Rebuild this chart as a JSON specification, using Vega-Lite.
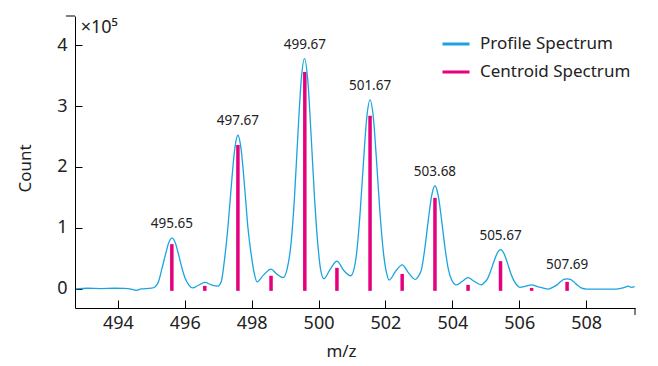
{
  "$schema": "https://vega.github.io/schema/vega-lite/v6.json",
  "width": 560,
  "height": 292,
  "autosize": {"type": "none"},
  "padding": {"left": 75, "top": 16, "right": 23, "bottom": 58},
  "background": "white",
  "config": {
    "view": {"stroke": null},
    "font": "Noto Sans",
    "axis": {"grid": false, "domainColor": "#000", "tickColor": "#000", "domainWidth": 1, "tickWidth": 1, "labelColor": "#222", "titleColor": "#222", "labelFont": "Noto Sans", "titleFont": "Noto Sans", "labelFontSize": 18, "titleFontSize": 17, "titleFontWeight": "normal"}
  },
  "datasets": {
    "profile": [
      {"mz": 492.75, "count": -500}, {"mz": 493.1, "count": 500}, {"mz": 493.5, "count": 0}, {"mz": 493.9, "count": 500},
      {"mz": 494.2, "count": 300}, {"mz": 494.4, "count": -1000}, {"mz": 494.55, "count": -3000}, {"mz": 494.7, "count": -500},
      {"mz": 495.0, "count": 500}, {"mz": 495.12, "count": 3000}, {"mz": 495.22, "count": 12000}, {"mz": 495.32, "count": 33000},
      {"mz": 495.42, "count": 55000}, {"mz": 495.52, "count": 75000}, {"mz": 495.62, "count": 83000}, {"mz": 495.72, "count": 75000},
      {"mz": 495.82, "count": 55000}, {"mz": 495.92, "count": 33000}, {"mz": 496.02, "count": 16000}, {"mz": 496.12, "count": 6000},
      {"mz": 496.24, "count": 1000}, {"mz": 496.4, "count": 5000}, {"mz": 496.6, "count": 10000}, {"mz": 496.8, "count": 6000},
      {"mz": 496.99, "count": 4000}, {"mz": 497.09, "count": 11000}, {"mz": 497.19, "count": 48000}, {"mz": 497.29, "count": 100000},
      {"mz": 497.39, "count": 167000}, {"mz": 497.49, "count": 227000}, {"mz": 497.59, "count": 252000}, {"mz": 497.69, "count": 227000},
      {"mz": 497.79, "count": 167000}, {"mz": 497.89, "count": 100000}, {"mz": 497.99, "count": 55000}, {"mz": 498.09, "count": 22000},
      {"mz": 498.16, "count": 11000}, {"mz": 498.35, "count": 22000}, {"mz": 498.58, "count": 32000}, {"mz": 498.75, "count": 24000},
      {"mz": 498.94, "count": 18000}, {"mz": 499.06, "count": 32000}, {"mz": 499.18, "count": 75000}, {"mz": 499.28, "count": 149000},
      {"mz": 499.38, "count": 250000}, {"mz": 499.48, "count": 341000}, {"mz": 499.58, "count": 378000}, {"mz": 499.68, "count": 341000},
      {"mz": 499.78, "count": 250000}, {"mz": 499.88, "count": 149000}, {"mz": 499.98, "count": 72000}, {"mz": 500.06, "count": 32000},
      {"mz": 500.16, "count": 16000}, {"mz": 500.35, "count": 32000}, {"mz": 500.55, "count": 45000}, {"mz": 500.75, "count": 30000},
      {"mz": 500.96, "count": 21000}, {"mz": 501.06, "count": 32000}, {"mz": 501.14, "count": 59000}, {"mz": 501.24, "count": 122000},
      {"mz": 501.34, "count": 205000}, {"mz": 501.44, "count": 280000}, {"mz": 501.54, "count": 310000}, {"mz": 501.64, "count": 280000},
      {"mz": 501.74, "count": 205000}, {"mz": 501.84, "count": 122000}, {"mz": 501.94, "count": 59000}, {"mz": 502.04, "count": 24000},
      {"mz": 502.11, "count": 14000}, {"mz": 502.3, "count": 28000}, {"mz": 502.5, "count": 39000}, {"mz": 502.7, "count": 25000},
      {"mz": 502.9, "count": 15000}, {"mz": 502.98, "count": 20000}, {"mz": 503.08, "count": 32000}, {"mz": 503.18, "count": 67000},
      {"mz": 503.28, "count": 112000}, {"mz": 503.38, "count": 152000}, {"mz": 503.48, "count": 169000}, {"mz": 503.58, "count": 152000},
      {"mz": 503.68, "count": 112000}, {"mz": 503.78, "count": 67000}, {"mz": 503.88, "count": 32000}, {"mz": 503.98, "count": 14000},
      {"mz": 504.12, "count": 6000}, {"mz": 504.3, "count": 12000}, {"mz": 504.47, "count": 18000}, {"mz": 504.65, "count": 12000},
      {"mz": 504.87, "count": 6000}, {"mz": 504.94, "count": 9000}, {"mz": 505.04, "count": 15000}, {"mz": 505.14, "count": 28000},
      {"mz": 505.24, "count": 44000}, {"mz": 505.34, "count": 58000}, {"mz": 505.44, "count": 64000}, {"mz": 505.54, "count": 58000},
      {"mz": 505.64, "count": 43000}, {"mz": 505.74, "count": 26000}, {"mz": 505.84, "count": 13000}, {"mz": 505.94, "count": 5000},
      {"mz": 506.02, "count": 2000}, {"mz": 506.2, "count": 4000}, {"mz": 506.37, "count": 6000}, {"mz": 506.55, "count": 3000},
      {"mz": 506.7, "count": 1000}, {"mz": 506.86, "count": -1000}, {"mz": 507.0, "count": 2000}, {"mz": 507.13, "count": 6000},
      {"mz": 507.23, "count": 11000}, {"mz": 507.33, "count": 15000}, {"mz": 507.43, "count": 16000}, {"mz": 507.53, "count": 15000},
      {"mz": 507.63, "count": 11000}, {"mz": 507.73, "count": 6000}, {"mz": 507.85, "count": 1000}, {"mz": 508.01, "count": -1000},
      {"mz": 508.4, "count": -1000}, {"mz": 508.8, "count": -1000}, {"mz": 509.0, "count": 0}, {"mz": 509.15, "count": 2000},
      {"mz": 509.26, "count": 4000}, {"mz": 509.35, "count": 2000}, {"mz": 509.45, "count": 3000}
    ],
    "centroid": [
      {"mz": 495.615, "count": 73000}, {"mz": 496.6, "count": 4400}, {"mz": 497.59, "count": 236000},
      {"mz": 498.58, "count": 21000}, {"mz": 499.59, "count": 356000}, {"mz": 500.55, "count": 34000},
      {"mz": 501.54, "count": 284000}, {"mz": 502.5, "count": 24000}, {"mz": 503.48, "count": 149000},
      {"mz": 504.47, "count": 6000}, {"mz": 505.44, "count": 45000}, {"mz": 506.37, "count": 1000},
      {"mz": 507.43, "count": 11000}
    ],
    "peaks": [
      {"mz": 495.615, "count": 83000, "label": "495.65"}, {"mz": 497.59, "count": 252000, "label": "497.67"},
      {"mz": 499.59, "count": 378000, "label": "499.67"}, {"mz": 501.54, "count": 310000, "label": "501.67"},
      {"mz": 503.48, "count": 169000, "label": "503.68"}, {"mz": 505.44, "count": 64000, "label": "505.67"},
      {"mz": 507.43, "count": 16000, "label": "507.69"}
    ],
    "multiplier": [{"text": "×10⁵"}]
  },
  "layer": [
    {
      "data": {"name": "centroid"},
      "mark": {"type": "rule", "strokeWidth": 3.5, "strokeCap": "butt"},
      "encoding": {
        "x": {"field": "mz", "type": "quantitative"},
        "y": {"field": "count", "type": "quantitative"},
        "y2": {"datum": -3800},
        "color": {"datum": "Centroid Spectrum"}
      }
    },
    {
      "data": {"name": "profile"},
      "mark": {"type": "line", "strokeWidth": 1.3, "interpolate": "monotone"},
      "encoding": {
        "x": {
          "field": "mz", "type": "quantitative",
          "scale": {"domain": [492.72, 509.46], "nice": false, "zero": false},
          "axis": {"title": "m/z", "values": [494, 496, 498, 500, 502, 504, 506, 508], "tickSize": -8, "labelPadding": 14, "titleX": 266, "titleY": 48, "titleBaseline": "alphabetic"}
        },
        "y": {
          "field": "count", "type": "quantitative",
          "scale": {"domain": [-32000, 448000], "nice": false, "zero": false},
          "axis": {"title": "Count", "values": [0, 100000, 200000, 300000, 400000], "labelExpr": "format(datum.value / 100000, 'd')", "tickSize": -7, "labelPadding": 15, "titleAngle": -90, "titleX": -45, "titleY": 152, "titleAlign": "center", "titleBaseline": "alphabetic"}
        },
        "color": {
          "datum": "Profile Spectrum",
          "scale": {"domain": ["Profile Spectrum", "Centroid Spectrum"], "range": ["#1aa3e0", "#e5007d"]},
          "legend": {"title": null, "orient": "none", "legendX": 366, "legendY": 13, "symbolType": "stroke", "symbolSize": 729, "symbolStrokeWidth": 3, "labelFontSize": 17, "labelFont": "Noto Sans", "labelColor": "#222", "labelOffset": 9, "rowPadding": 5, "padding": 0}
        }
      }
    },
    {
      "data": {"name": "peaks"},
      "mark": {"type": "text", "fontSize": 13.5, "font": "Noto Sans", "color": "#222", "baseline": "alphabetic", "dy": -10},
      "encoding": {
        "x": {"field": "mz", "type": "quantitative"},
        "y": {"field": "count", "type": "quantitative"},
        "text": {"field": "label"}
      }
    },
    {
      "data": {"name": "multiplier"},
      "mark": {"type": "text", "fontSize": 18, "font": "Noto Sans", "color": "#222", "align": "left", "baseline": "alphabetic"},
      "encoding": {
        "x": {"datum": 492.89},
        "y": {"datum": 419600},
        "text": {"field": "text"}
      }
    },
    {
      "data": {"name": "multiplier"},
      "mark": {"type": "rule", "color": "#000", "strokeWidth": 1},
      "encoding": {
        "x": {"datum": 492.45},
        "x2": {"datum": 492.72},
        "y": {"datum": 448000}
      }
    },
    {
      "data": {"name": "multiplier"},
      "mark": {"type": "rule", "color": "#000", "strokeWidth": 1},
      "encoding": {
        "x": {"datum": 509.46},
        "y": {"datum": -32000},
        "y2": {"datum": -43500}
      }
    }
  ]
}
